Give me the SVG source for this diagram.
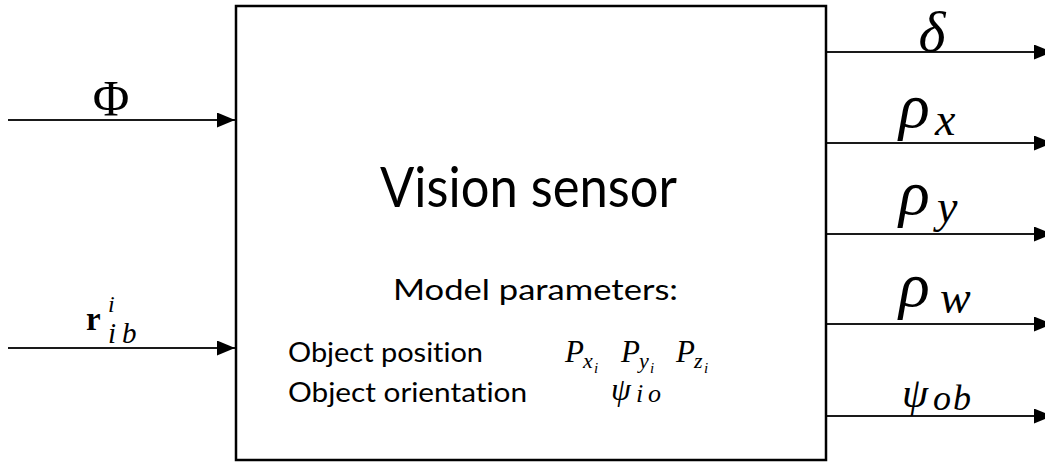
<svg xmlns="http://www.w3.org/2000/svg" width="1045" height="463" viewBox="0 0 1045 463">
  <style>
    .box { fill: #ffffff; stroke: #000000; stroke-width: 2.5; }
    .wire { stroke: #1a1a1a; stroke-width: 2; fill: none; }
    .sans { font-family: Lato, "Open Sans", "Liberation Sans", sans-serif; fill: #000000; font-variant-ligatures: none; }
    .math { font-family: "Liberation Serif", "Times New Roman", serif; font-style: italic; fill: #000000; }
    .up { font-family: "Liberation Serif", "Times New Roman", serif; fill: #000000; }
  </style>
  <defs>
    <marker id="arrow" markerUnits="userSpaceOnUse" markerWidth="20" markerHeight="16" refX="18" refY="7.5" orient="auto">
      <path d="M0,0 L18,7.5 L0,15 Z" fill="#000000"/>
    </marker>
  </defs>

  <rect width="1045" height="463" fill="#ffffff"/>

  <!-- connectors -->
  <g id="connectors">
    <line class="wire" x1="8" y1="120" x2="235" y2="120" marker-end="url(#arrow)"/>
    <line class="wire" x1="8" y1="348" x2="235" y2="348" marker-end="url(#arrow)"/>
    <line class="wire" x1="827" y1="52" x2="1052" y2="52" marker-end="url(#arrow)"/>
    <line class="wire" x1="827" y1="143" x2="1052" y2="143" marker-end="url(#arrow)"/>
    <line class="wire" x1="827" y1="234" x2="1052" y2="234" marker-end="url(#arrow)"/>
    <line class="wire" x1="827" y1="324" x2="1052" y2="324" marker-end="url(#arrow)"/>
    <line class="wire" x1="827" y1="416" x2="1052" y2="416" marker-end="url(#arrow)"/>
  </g>

  <!-- input labels -->
  <g id="input-phi">
    <text class="up" x="111" y="115" font-size="50" text-anchor="middle">Φ</text>
  </g>
  <g id="input-r">
    <text class="up" x="86" y="330" font-size="33" font-weight="bold">r</text>
    <text class="math" x="108" y="312" font-size="24">i</text>
    <text class="math" x="108" y="343" font-size="29">i</text>
    <text class="math" x="122" y="343" font-size="29">b</text>
  </g>

  <!-- sensor block -->
  <g id="vision-sensor">
    <rect class="box" x="236" y="6" width="590" height="454"/>
    <text class="sans" x="380" y="207" font-size="57" textLength="297" lengthAdjust="spacingAndGlyphs">Vision sensor</text>
    <text class="sans" x="393" y="300" font-size="28" textLength="285" lengthAdjust="spacingAndGlyphs">Model parameters:</text>
    <text class="sans" x="288" y="362" font-size="26" textLength="195" lengthAdjust="spacingAndGlyphs">Object position</text>
    <text class="sans" x="288" y="402" font-size="26" textLength="239" lengthAdjust="spacingAndGlyphs">Object orientation</text>
    <!-- position parameters -->
    <text class="math" x="565" y="362" font-size="31">P</text>
    <text class="math" x="583" y="368" font-size="22">x</text>
    <text class="math" x="594" y="373" font-size="15">i</text>
    <text class="math" x="621" y="362" font-size="31">P</text>
    <text class="math" x="639" y="368" font-size="22">y</text>
    <text class="math" x="650" y="373" font-size="15">i</text>
    <text class="math" x="676" y="362" font-size="31">P</text>
    <text class="math" x="694" y="368" font-size="22">z</text>
    <text class="math" x="704" y="373" font-size="15">i</text>
    <!-- orientation parameter -->
    <text class="math" x="611" y="400" font-size="32">ψ</text>
    <text class="math" x="636" y="402" font-size="26">i</text>
    <text class="math" x="648" y="402" font-size="26">o</text>
  </g>

  <!-- output labels -->
  <g id="output-delta">
    <text class="math" x="932" y="51" font-size="58" text-anchor="middle">δ</text>
  </g>
  <g id="output-rho-x">
    <text class="math" x="899" y="127" font-size="64">ρ</text>
    <text class="math" x="935" y="135" font-size="46">x</text>
  </g>
  <g id="output-rho-y">
    <text class="math" x="899" y="214" font-size="64">ρ</text>
    <text class="math" x="937" y="222" font-size="46">y</text>
  </g>
  <g id="output-rho-w">
    <text class="math" x="899" y="306" font-size="64">ρ</text>
    <text class="math" x="940" y="313" font-size="46">w</text>
  </g>
  <g id="output-psi-ob">
    <text class="math" x="902" y="407" font-size="42">ψ</text>
    <text class="math" x="933" y="410" font-size="36">o</text>
    <text class="math" x="953" y="410" font-size="36">b</text>
  </g>
</svg>
